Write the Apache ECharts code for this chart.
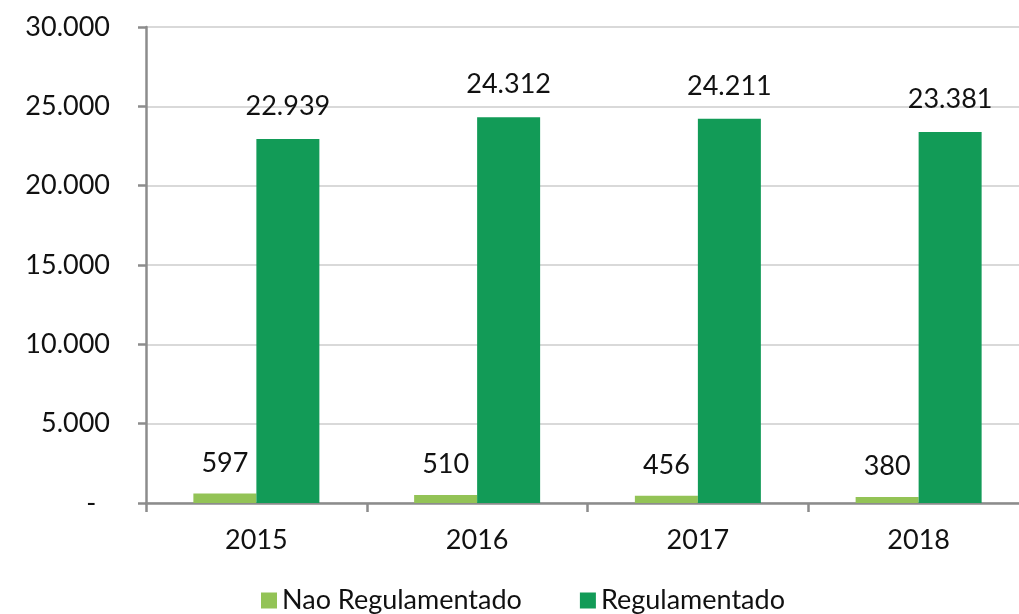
<!DOCTYPE html>
<html>
<head>
<meta charset="utf-8">
<script src="https://cdn.jsdelivr.net/npm/echarts@6/dist/echarts.min.js"></script>
<style>
  html, body { margin: 0; padding: 0; background: #ffffff; }
  #chart { width: 1019px; height: 614px; }
</style>
</head>
<body>
<div id="chart"></div>
<script>
// Volumes per year, split by market segment
const years = ['2015', '2016', '2017', '2018'];
const naoRegulamentado = [597, 510, 456, 380];
const regulamentado = [22939, 24312, 24211, 23381];
const seriesNames = ['Nao Regulamentado', 'Regulamentado'];

const FONT = 'Lato, "Open Sans", sans-serif';
const FS = 27;

// Portuguese thousands separator; zero shown as a dash
function fmt(v) {
  if (v === 0) return '-  ';
  return String(v).replace(/\B(?=(\d{3})+(?!\d))/g, '.');
}

const chart = echarts.init(document.getElementById('chart'));
chart.setOption({
  animation: false,
  grid: {
    left: 146, width: 883, top: 27, bottom: 111,
    containLabel: false, outerBoundsMode: 'none'
  },
  legend: {
    bottom: -5,
    left: 256,
    itemWidth: 16,
    itemHeight: 16,
    itemGap: 58,
    icon: 'rect',
    textStyle: { fontFamily: FONT, fontSize: FS, color: '#111' },
    data: seriesNames
  },
  xAxis: {
    type: 'category',
    data: years,
    axisLine: { lineStyle: { color: '#8c8c8c', width: 2.5 } },
    axisTick: { show: true, length: 9, lineStyle: { color: '#8c8c8c', width: 2.5 } },
    axisLabel: { fontFamily: FONT, fontSize: FS, color: '#111', margin: 24 }
  },
  yAxis: {
    type: 'value',
    min: 0,
    max: 30000,
    interval: 5000,
    axisLine: { show: true, lineStyle: { color: '#8c8c8c', width: 2.5 } },
    axisTick: { show: true, length: 8, lineStyle: { color: '#8c8c8c', width: 2.5 } },
    splitLine: { lineStyle: { color: '#d9d9d9', width: 2 } },
    axisLabel: {
      fontFamily: FONT, fontSize: FS, color: '#111', margin: 36,
      formatter: fmt
    }
  },
  series: [
    {
      name: seriesNames[0],
      type: 'bar',
      data: naoRegulamentado,
      barWidth: 63,
      barGap: '0%',
      itemStyle: { color: '#93c356' },
      label: {
        show: true, position: 'top', distance: 17,
        fontFamily: FONT, fontSize: FS, color: '#111',
        formatter: p => fmt(p.value)
      }
    },
    {
      name: seriesNames[1],
      type: 'bar',
      data: regulamentado,
      barWidth: 63,
      barGap: '0%',
      itemStyle: { color: '#129b57' },
      label: {
        show: true, position: 'top', distance: 19,
        fontFamily: FONT, fontSize: FS, color: '#111',
        formatter: p => fmt(p.value)
      }
    }
  ]
});
</script>
</body>
</html>
